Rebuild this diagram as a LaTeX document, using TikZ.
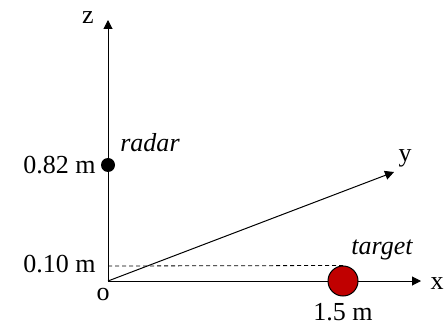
\documentclass[tikz,border=0pt]{standalone}
\usepackage{fontspec}
\setmainfont{Liberation Serif}
\usetikzlibrary{arrows.meta}
\definecolor{targetred}{RGB}{192,0,0}
\tikzset{
  axis/.style={line width=0.5pt, -{Triangle[length=4.5pt,width=4.5pt]}},
  lbl/.style={inner sep=0pt, font=\fontsize{13}{15}\selectfont},
}
\begin{document}
\begin{tikzpicture}[x=0.5pt,y=0.5pt]
  \useasboundingbox (0,0) rectangle (448,326);
  \coordinate (O) at (108,45);
  \coordinate (Z) at (108,306); \coordinate (X) at (421,45);
  \coordinate (Y) at (394,154);
  \draw[axis] (O) -- (Z);
  \draw[axis] (O) -- (X);
  \draw[axis] (O) -- (Y);
  \node[circle, fill=black, inner sep=0pt, minimum size=7pt] (radar) at (108,161) {};
  \coordinate (h) at (108,60);
  \node[circle, draw, line width=0.5pt, fill=targetred, inner sep=0pt, minimum size=15pt] (target) at (343,45) {};
  \draw[dashed, line width=0.4pt, dash pattern=on 2pt off 1.5pt] (h) -- (target.north);
  \node[lbl] (zl) at (88,308) {z};
  \node[lbl] (xl) at (437,42) {x};
  \node[lbl] (yl) at (405,168) {y};
  \node[lbl] (ol) at (103,32) {o};
  \node[lbl, left] (rh) at (96,161) {0.82 m};
  \node[lbl, left] (th) at (96,62) {0.10 m};
  \node[lbl] (tx) at (343,14) {1.5 m};
  \node[lbl] (rl) at (150,183) {\itshape radar};
  \node[lbl] (tl) at (382,76) {\itshape target};
\end{tikzpicture}
\end{document}
